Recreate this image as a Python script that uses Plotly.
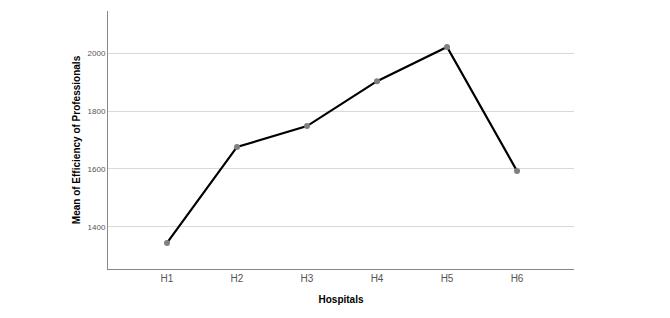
import plotly.graph_objects as go

hospitals = ["H1", "H2", "H3", "H4", "H5", "H6"]
mean_efficiency = [1345, 1676, 1748, 1903, 2021, 1593]
y_ticks = [1400, 1600, 1800, 2000]

fig = go.Figure()
fig.add_trace(go.Scatter(
    x=hospitals, y=mean_efficiency, mode="lines+markers",
    line=dict(color="black", width=2.2),
    marker=dict(color="#808080", size=6),
    showlegend=False,
))

fig.update_layout(
    width=670, height=318,
    margin=dict(l=108, r=96, t=11, b=49),
    plot_bgcolor="white", paper_bgcolor="white",
    font=dict(family="Liberation Sans, Arial, sans-serif", color="#333"),
    xaxis=dict(
        type="category", range=[-0.843, 5.814],
        showline=True, linecolor="#888", linewidth=1,
        showgrid=False, ticks="", tickfont=dict(size=10, color="#555"),
        title=dict(text="<b>Hospitals</b>", font=dict(size=10, color="black"), standoff=12),
    ),
    yaxis=dict(
        range=[1255, 2145], tickvals=y_ticks,
        showline=True, linecolor="#888", linewidth=1,
        showgrid=True, gridcolor="#d9d9d9", gridwidth=1,
        zeroline=False, ticks="", tickfont=dict(size=8, color="#555"),
        title=dict(text="<b>Mean of Efficiency of Professionals</b>", font=dict(size=10, color="black"), standoff=5),
    ),
)

fig.write_html("out.html")
